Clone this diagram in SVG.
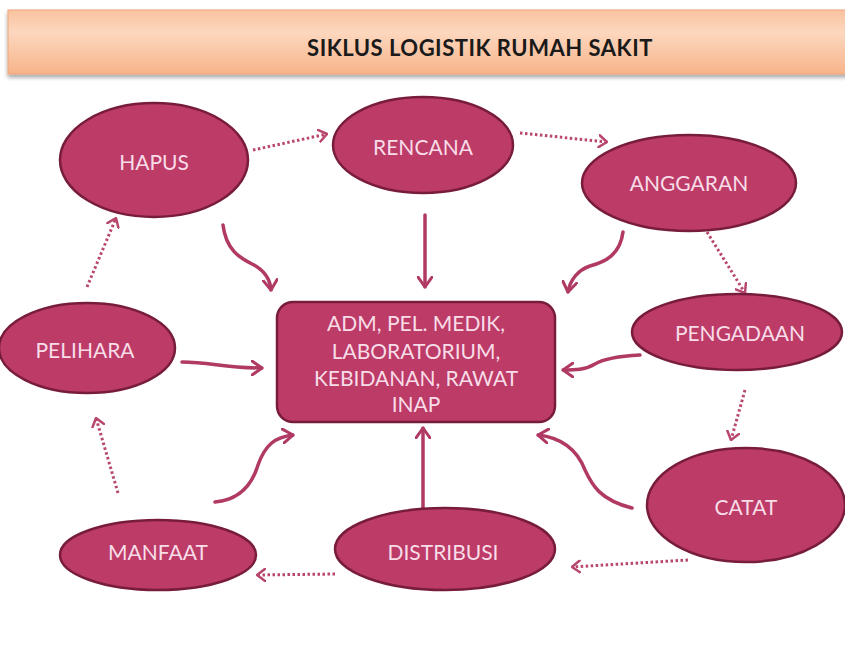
<svg xmlns="http://www.w3.org/2000/svg" width="845" height="662" viewBox="0 0 845 662">
<defs>
<linearGradient id="ban" x1="0" y1="0" x2="0" y2="1">
<stop offset="0" stop-color="#f9c3a0"/>
<stop offset="0.35" stop-color="#fcd7be"/>
<stop offset="1" stop-color="#f7b48a"/>
</linearGradient>
<filter id="sh" x="-5%" y="-20%" width="110%" height="150%">
<feGaussianBlur in="SourceAlpha" stdDeviation="2"/>
<feOffset dx="0" dy="3" result="b"/>
<feComponentTransfer><feFuncA type="linear" slope="0.35"/></feComponentTransfer>
<feMerge><feMergeNode/><feMergeNode in="SourceGraphic"/></feMerge>
</filter>
<marker id="ah" viewBox="0 0 12 16" refX="11" refY="8" markerWidth="12" markerHeight="16" markerUnits="userSpaceOnUse" orient="auto">
<path d="M1,1 L11,8 L1,15" fill="none" stroke="#b03a64" stroke-width="3" stroke-linecap="round" stroke-linejoin="round"/>
</marker>
<marker id="dh" viewBox="0 0 10 14" refX="9" refY="7" markerWidth="10" markerHeight="14" markerUnits="userSpaceOnUse" orient="auto">
<path d="M1,1 L9,7 L1,13" fill="none" stroke="#b8476f" stroke-width="2.5" stroke-linecap="round" stroke-linejoin="round"/>
</marker>
</defs>
<style>
.node{fill:#bc3b67;stroke:#781c3e;stroke-width:2.5}
.lbl{font-family:Lato,"Liberation Sans",sans-serif;font-size:21px;fill:#f8dde8;text-anchor:middle}
.solid{fill:none;stroke:#b03a64;stroke-width:3.5;stroke-linecap:round;marker-end:url(#ah)}
.dot{fill:none;stroke:#b8476f;stroke-width:3;stroke-dasharray:2.5 2.5;marker-end:url(#dh)}
</style>
<rect width="845" height="662" fill="#ffffff"/>
<g id="title">
<rect x="8" y="10" width="845" height="64" fill="url(#ban)" stroke="#eea47a" stroke-width="1" filter="url(#sh)"/>
<text x="480" y="56" font-family="Lato,'Liberation Sans',sans-serif" font-size="22" font-weight="bold" fill="#1a1a1a" text-anchor="middle" letter-spacing="0.5">SIKLUS LOGISTIK RUMAH SAKIT</text>
</g>
<g id="connectors">
<path class="solid" d="M223,225 C226,250 240,258 252,264 C264,270 270,278 271,290"/>
<path class="solid" d="M425,215 L425,287"/>
<path class="solid" d="M623,232 C620,255 605,262 590,266 C578,270 570,280 568,292"/>
<path class="solid" d="M640,355 C620,356 605,358 595,364 C585,370 575,370 563,370"/>
<path class="solid" d="M182,362 C210,362 225,368 262,368"/>
<path class="solid" d="M215,502 C240,500 252,485 258,465 C265,445 275,437 293,435"/>
<path class="solid" d="M423,510 L423,428"/>
<path class="solid" d="M632,508 C600,500 592,485 585,470 C578,452 565,438 538,435"/>
<path class="dot" d="M253,150 L327,134"/>
<path class="dot" d="M520,133 L607,142"/>
<path class="dot" d="M707,232 L745,293"/>
<path class="dot" d="M745,390 L731,440"/>
<path class="dot" d="M688,560 L572,567"/>
<path class="dot" d="M335,574 L257,575"/>
<path class="dot" d="M118,493 L96,418"/>
<path class="dot" d="M87,287 L116,218"/>
</g>
<g id="center">
<rect class="node" x="277" y="302" width="278" height="120" rx="16"/>
<text class="lbl" x="416" y="331">ADM, PEL. MEDIK,</text>
<text class="lbl" x="416" y="359">LABORATORIUM,</text>
<text class="lbl" x="416" y="386">KEBIDANAN, RAWAT</text>
<text class="lbl" x="416" y="412">INAP</text>
</g>
<g id="hapus"><ellipse class="node" cx="154" cy="160" rx="94" ry="57"/><text class="lbl" x="154" y="170">HAPUS</text></g>
<g id="rencana"><ellipse class="node" cx="423" cy="145" rx="90" ry="48"/><text class="lbl" x="423" y="155">RENCANA</text></g>
<g id="anggaran"><ellipse class="node" cx="689" cy="183" rx="107" ry="48"/><text class="lbl" x="689" y="191">ANGGARAN</text></g>
<g id="pengadaan"><ellipse class="node" cx="737" cy="332" rx="105" ry="38"/><text class="lbl" x="740" y="341">PENGADAAN</text></g>
<g id="catat"><ellipse class="node" cx="746" cy="505" rx="99" ry="57"/><text class="lbl" x="746" y="515">CATAT</text></g>
<g id="distribusi"><ellipse class="node" cx="445" cy="549" rx="110" ry="41"/><text class="lbl" x="443" y="560">DISTRIBUSI</text></g>
<g id="manfaat"><ellipse class="node" cx="158" cy="555" rx="98" ry="35"/><text class="lbl" x="158" y="560">MANFAAT</text></g>
<g id="pelihara"><ellipse class="node" cx="87" cy="348" rx="88" ry="45"/><text class="lbl" x="85" y="358">PELIHARA</text></g>
</svg>
